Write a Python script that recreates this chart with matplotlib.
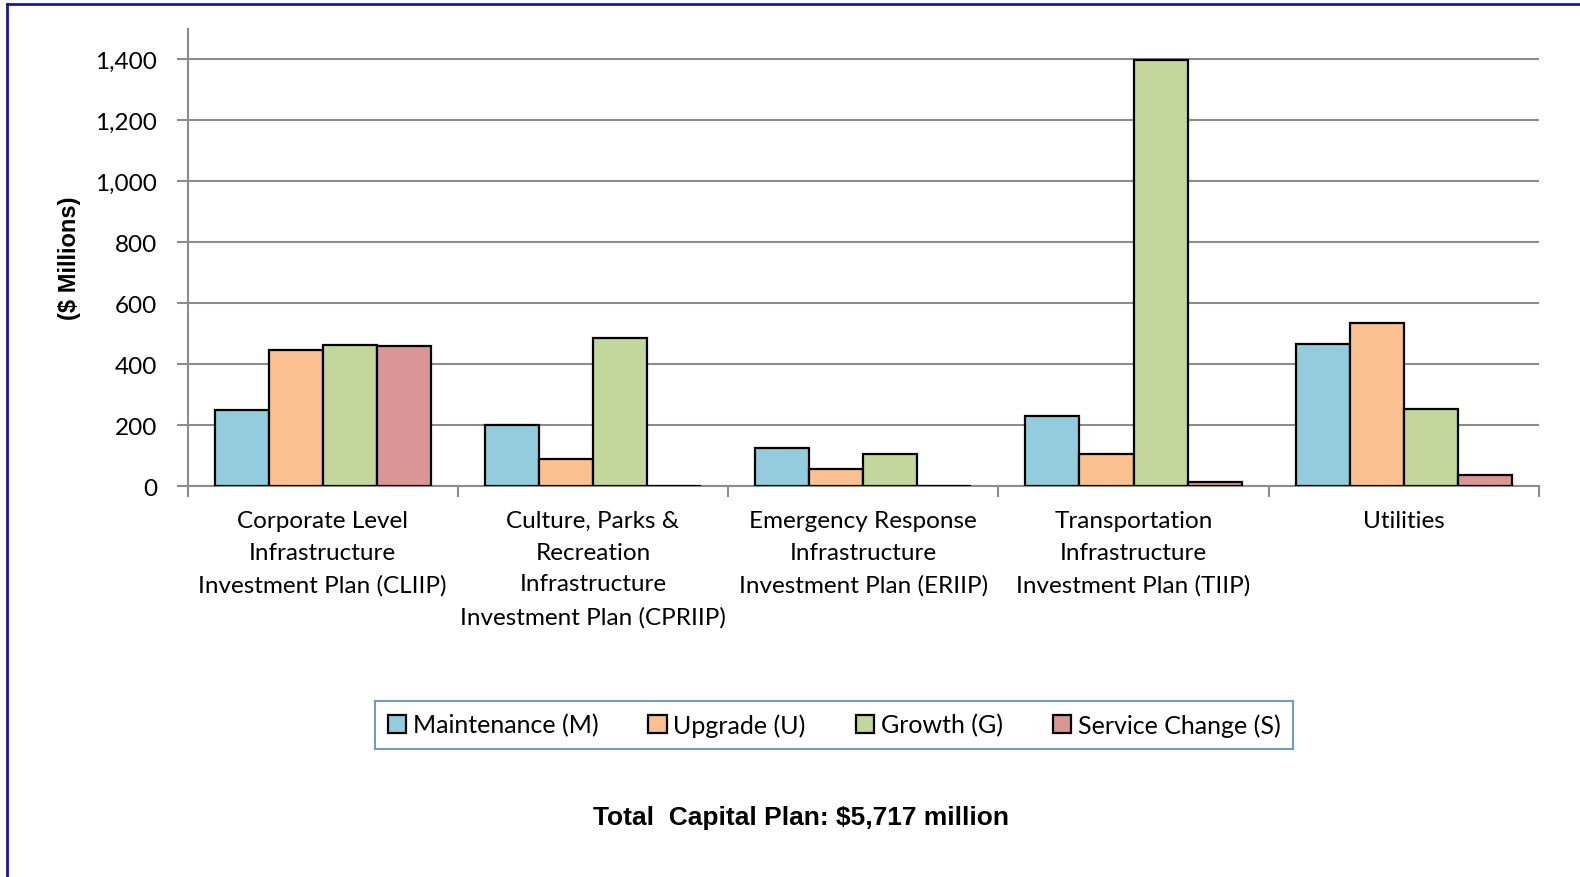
import numpy as np
import matplotlib.pyplot as plt
from matplotlib.lines import Line2D

# capital plan by infrastructure plan and investment type, $ millions
categories = [
    "Corporate Level\nInfrastructure\nInvestment Plan (CLIIP)",
    "Culture, Parks &\nRecreation\nInfrastructure\nInvestment Plan (CPRIIP)",
    "Emergency Response\nInfrastructure\nInvestment Plan (ERIIP)",
    "Transportation\nInfrastructure\nInvestment Plan (TIIP)",
    "Utilities",
]
series_names = ["Maintenance (M)", "Upgrade (U)", "Growth (G)", "Service Change (S)"]
maintenance = [250, 200, 125, 231, 466]
upgrade = [445, 90, 55, 104, 534]
growth = [464, 485, 106, 1398, 254]
service_change = [458, 1, 0, 12, 36]
yticks = [0, 200, 400, 600, 800, 1000, 1200, 1400]

colors = ["#93CDDD", "#FAC090", "#C3D69B", "#D99694"]
plt.rcParams["font.family"] = ["Lato", "DejaVu Sans"]

fig = plt.figure(figsize=(15.8, 8.78), dpi=100)
ax = fig.add_axes([0.1187, 0.4453, 0.974 - 0.1187, 0.966 - 0.4453])

x = np.arange(len(categories))
w = 0.2
for i, vals in enumerate([maintenance, upgrade, growth, service_change]):
    ax.bar(x + (i - 1.5) * w, vals, w, color=colors[i], edgecolor="black",
           linewidth=1.6, label=series_names[i], zorder=3)

ax.set_xlim(-0.5, len(categories) - 0.5)
ax.set_ylim(0, 1500)
ax.set_yticks(yticks)
ax.set_yticklabels([f"{v:,}" for v in yticks], fontsize=17.5)
ax.yaxis.grid(True, color="#8c8c8c", linewidth=1.5, zorder=0)
ax.tick_params(axis="y", length=8, width=1.5, color="#8c8c8c", pad=14)

ax.set_xticks(x)
ax.set_xticklabels(categories, fontsize=17.5, linespacing=1.64, va="top")
ax.tick_params(axis="x", length=0, pad=17)
ax.set_xticks(np.arange(len(categories) + 1) - 0.5, minor=True)
ax.tick_params(axis="x", which="minor", length=8, width=1.5, color="#8c8c8c")

for s in ["top", "right"]:
    ax.spines[s].set_visible(False)
for s in ["left", "bottom"]:
    ax.spines[s].set_color("#8c8c8c")
    ax.spines[s].set_linewidth(1.5)

ax.set_ylabel("($ Millions)", fontsize=17, fontweight="bold",
              family=["Liberation Sans", "DejaVu Sans"], labelpad=10)

leg = fig.legend(loc="center", bbox_to_anchor=(834 / 1580, 1 - 726 / 878), ncol=4,
                 fontsize=18, frameon=True, fancybox=False, handlelength=0.75,
                 handleheight=0.75, handletextpad=0.25, columnspacing=2.0,
                 borderpad=0.5, borderaxespad=0)
leg.get_frame().set_edgecolor("#4F81BD")
leg.get_frame().set_linewidth(1.5)

fig.text(801 / 1580, 1 - 818 / 878, "Total  Capital Plan: $5,717 million",
         ha="center", va="center", fontsize=19, fontweight="bold",
         family=["Liberation Sans", "DejaVu Sans"])

# outer frame, left and top edges
fig.add_artist(Line2D([7 / 1580, 7 / 1580], [0, 1 - 5 / 878], color="#1a1a8c",
                      linewidth=2, transform=fig.transFigure))
fig.add_artist(Line2D([7 / 1580, 1], [1 - 5 / 878, 1 - 5 / 878], color="#1a1a8c",
                      linewidth=2, transform=fig.transFigure))

fig.savefig("out.png", dpi=100)
